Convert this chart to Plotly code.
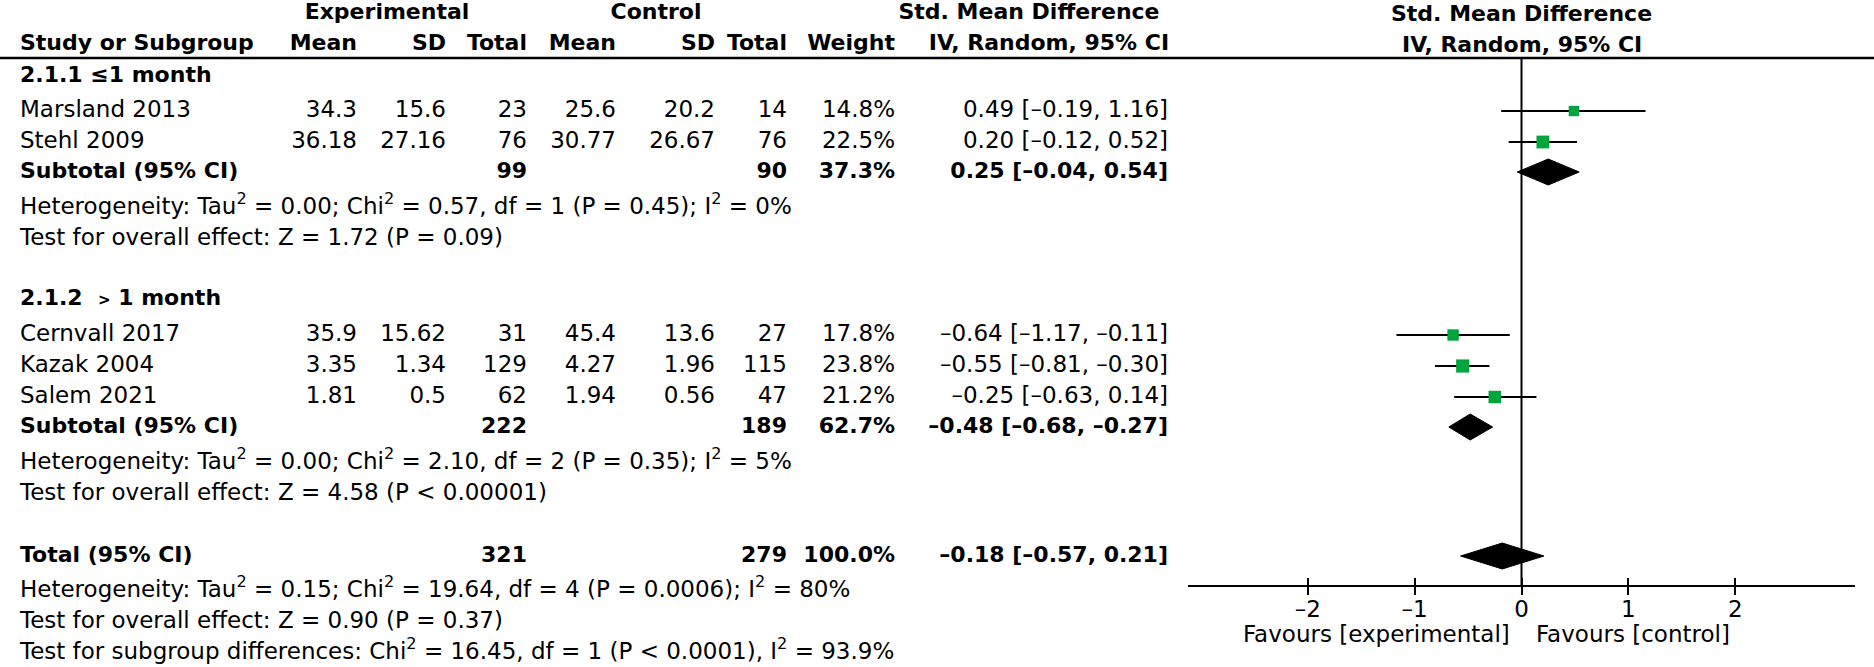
import math
import plotly.graph_objects as go

# ---- data ----
studies = ["Marsland 2013", "Stehl 2009", "Cernvall 2017", "Kazak 2004", "Salem 2021"]
exp_mean = [34.3, 36.18, 35.9, 3.35, 1.81]
exp_sd = [15.6, 27.16, 15.62, 1.34, 0.5]
exp_n = [23, 76, 31, 129, 62]
ctl_mean = [25.6, 30.77, 45.4, 4.27, 1.94]
ctl_sd = [20.2, 26.67, 13.6, 1.96, 0.56]
ctl_n = [14, 76, 27, 115, 47]
weight = [14.8, 22.5, 17.8, 23.8, 21.2]
smd = [0.49, 0.20, -0.64, -0.55, -0.25]
smd_lo = [-0.19, -0.12, -1.17, -0.81, -0.63]
smd_hi = [1.16, 0.52, -0.11, -0.30, 0.14]

groups = ["2.1.1 ≤1 month", "2.1.2  <span style='font-size:15px'>&gt;</span> 1 month"]
sub_exp_n = [99, 222]
sub_ctl_n = [90, 189]
sub_weight = [37.3, 62.7]
sub_smd = [0.25, -0.48]
sub_lo = [-0.04, -0.68]
sub_hi = [0.54, -0.27]
sub_het = [
    "Heterogeneity: Tau<sup>2</sup> = 0.00; Chi<sup>2</sup> = 0.57, df = 1 (P = 0.45); I<sup>2</sup> = 0%",
    "Heterogeneity: Tau<sup>2</sup> = 0.00; Chi<sup>2</sup> = 2.10, df = 2 (P = 0.35); I<sup>2</sup> = 5%",
]
sub_test = [
    "Test for overall effect: Z = 1.72 (P = 0.09)",
    "Test for overall effect: Z = 4.58 (P < 0.00001)",
]

tot_exp_n = 321
tot_ctl_n = 279
tot_weight = 100.0
tot_smd = -0.18
tot_lo = -0.57
tot_hi = 0.21
tot_het = "Heterogeneity: Tau<sup>2</sup> = 0.15; Chi<sup>2</sup> = 19.64, df = 4 (P = 0.0006); I<sup>2</sup> = 80%"
tot_test = "Test for overall effect: Z = 0.90 (P = 0.37)"
sgd_test = "Test for subgroup differences: Chi<sup>2</sup> = 16.45, df = 1 (P < 0.0001), I<sup>2</sup> = 93.9%"

tick_vals = [-2, -1, 0, 1, 2]
tick_text = ["–2", "–1", "0", "1", "2"]

# ---- layout (pixel rows / columns) ----
W, H = 1874, 667
y_h1, y_h2, y_rule = 13, 44, 58
y_group = [76, 299]
y_study = [111, 142, 335, 366, 397]
y_sub = [172, 427]
y_het = [208, 463]
y_test = [239, 494]
y_total, y_tot_het, y_tot_test, y_sgd = 556, 591, 622, 653
y_axis = 586

x_left = 20
col_right = dict(em=357, esd=446, en=527, cm=616, csd=715, cn=787, w=895, ci=1168)

FONT = "DejaVu Sans"
FS = 23   # regular text
FSB = 22  # bold text
GREEN = "#00a53c"


def num(v):
    return str(v).replace("-", "–")


def ci_txt(e, lo, hi):
    return f"{e:.2f} [{lo:.2f}, {hi:.2f}]".replace("-", "–")


fig = go.Figure()


def text_trace(xs, ys, texts, pos, bold=False):
    if bold:
        texts = [f"<b>{t}</b>" for t in texts]
    fig.add_trace(go.Scatter(
        x=xs, y=ys, text=texts, mode="text", textposition=pos,
        textfont=dict(family=FONT, size=FSB if bold else FS, color="black"),
        xaxis="x2", yaxis="y", hoverinfo="skip", showlegend=False))


# headers
text_trace([387, 656], [y_h1, y_h1], ["Experimental", "Control"], "middle center", True)
text_trace([1029], [y_h1], ["Std. Mean Difference"], "middle center", True)
text_trace([1049], [y_h2], ["IV, Random, 95% CI"], "middle center", True)
text_trace([x_left], [y_h2], ["Study or Subgroup"], "middle right", True)
hdr_keys = ["em", "esd", "en", "cm", "csd", "cn", "w"]
hdr_txt = ["Mean", "SD", "Total", "Mean", "SD", "Total", "Weight"]
text_trace([col_right[k] for k in hdr_keys], [y_h2] * 7, hdr_txt, "middle left", True)

# study rows
text_trace([x_left] * 5, y_study, studies, "middle right")
cols = [("em", exp_mean), ("esd", exp_sd), ("en", exp_n),
        ("cm", ctl_mean), ("csd", ctl_sd), ("cn", ctl_n)]
for k, vals in cols:
    text_trace([col_right[k]] * 5, y_study, [num(v) for v in vals], "middle left")
text_trace([col_right["w"]] * 5, y_study, [f"{w:.1f}%" for w in weight], "middle left")
text_trace([col_right["ci"]] * 5, y_study,
           [ci_txt(e, l, h) for e, l, h in zip(smd, smd_lo, smd_hi)], "middle left")

# subgroup rows
text_trace([x_left] * 2, y_group, groups, "middle right", True)
text_trace([x_left] * 2, y_sub, ["Subtotal (95% CI)"] * 2, "middle right", True)
text_trace([col_right["en"]] * 2, y_sub, [str(v) for v in sub_exp_n], "middle left", True)
text_trace([col_right["cn"]] * 2, y_sub, [str(v) for v in sub_ctl_n], "middle left", True)
text_trace([col_right["w"]] * 2, y_sub, [f"{w:.1f}%" for w in sub_weight], "middle left", True)
text_trace([col_right["ci"]] * 2, y_sub,
           [ci_txt(e, l, h) for e, l, h in zip(sub_smd, sub_lo, sub_hi)], "middle left", True)
text_trace([x_left] * 2, y_het, sub_het, "middle right")
text_trace([x_left] * 2, y_test, sub_test, "middle right")

# total rows
text_trace([x_left], [y_total], ["Total (95% CI)"], "middle right", True)
text_trace([col_right["en"], col_right["cn"], col_right["w"], col_right["ci"]], [y_total] * 4,
           [str(tot_exp_n), str(tot_ctl_n), f"{tot_weight:.1f}%", ci_txt(tot_smd, tot_lo, tot_hi)],
           "middle left", True)
text_trace([x_left] * 3, [y_tot_het, y_tot_test, y_sgd], [tot_het, tot_test, sgd_test], "middle right")

# ---- forest ----
ci_x, ci_y = [], []
for lo, hi, y in zip(smd_lo, smd_hi, y_study):
    ci_x += [lo, hi, None]
    ci_y += [y, y, None]
fig.add_trace(go.Scatter(x=ci_x, y=ci_y, mode="lines", line=dict(color="black", width=1.8),
                         xaxis="x", yaxis="y", hoverinfo="skip", showlegend=False))
fig.add_trace(go.Scatter(
    x=smd, y=y_study, mode="markers",
    marker=dict(symbol="square", color=GREEN, size=[2.7 * math.sqrt(w) for w in weight],
                line=dict(width=0), opacity=1),
    xaxis="x", yaxis="y", hoverinfo="skip", showlegend=False))

dh = 13
for e, lo, hi, y in zip(sub_smd + [tot_smd], sub_lo + [tot_lo], sub_hi + [tot_hi], y_sub + [y_total]):
    fig.add_trace(go.Scatter(
        x=[lo, e, hi, e, lo], y=[y, y - dh, y, y + dh, y], mode="lines", fill="toself",
        fillcolor="black", line=dict(color="black", width=1),
        xaxis="x", yaxis="y", hoverinfo="skip", showlegend=False))

# zero line and header rule
fig.add_shape(type="line", xref="x", yref="y", x0=0, x1=0, y0=y_rule, y1=y_axis,
              line=dict(color="black", width=2))
fig.add_shape(type="line", xref="paper", yref="y", x0=0, x1=1, y0=y_rule, y1=y_rule,
              line=dict(color="black", width=2.5))

# forest headers and favours labels
for yy, t in [(y_h1, "Std. Mean Difference"), (y_h2, "IV, Random, 95% CI")]:
    fig.add_annotation(x=0, y=yy, xref="x", yref="y", text=f"<b>{t}</b>", showarrow=False,
                       font=dict(family=FONT, size=FSB, color="black"))
fig.add_annotation(x=0, y=634, xref="x", yref="y", text="Favours [experimental]", showarrow=False,
                   xanchor="right", xshift=-10, font=dict(family=FONT, size=FS, color="black"))
fig.add_annotation(x=0, y=634, xref="x", yref="y", text="Favours [control]", showarrow=False,
                   xanchor="left", xshift=12, font=dict(family=FONT, size=FS, color="black"))

axis_pos = 1 - y_axis / H
dom = [1188 / W, 1855 / W]
fig.update_layout(
    width=W, height=H, margin=dict(l=0, r=0, t=0, b=0),
    paper_bgcolor="white", plot_bgcolor="rgba(0,0,0,0)",
    xaxis=dict(domain=dom, range=[-3.12, 3.12], anchor="free", position=axis_pos,
               showline=True, linecolor="black", linewidth=2, ticks="outside", ticklen=8,
               tickwidth=1.5, tickcolor="black", tickvals=tick_vals, ticktext=tick_text,
               ticklabelstandoff=-6,
               tickfont=dict(family=FONT, size=FS, color="black"), showgrid=False, zeroline=False),
    xaxis3=dict(domain=dom, range=[-3.12, 3.12], anchor="free", position=axis_pos, overlaying="x",
                ticks="inside", ticklen=8, tickwidth=1.5, tickcolor="black",
                tickvals=tick_vals, showticklabels=False, showline=False, showgrid=False, zeroline=False),
    xaxis2=dict(domain=[0, 1], range=[0, W], visible=False, anchor="y"),
    yaxis=dict(domain=[0, 1], range=[H, 0], visible=False),
)
# invisible trace so the inner tick axis is drawn
fig.add_trace(go.Scatter(x=[0], y=[y_axis], mode="markers", marker=dict(opacity=0),
                         xaxis="x3", yaxis="y", hoverinfo="skip", showlegend=False))

# drop the default page margin so the figure sits at the window's corner
fig.write_html("out.html", config={"displayModeBar": False},
               post_script="document.body.style.margin='0px';")
